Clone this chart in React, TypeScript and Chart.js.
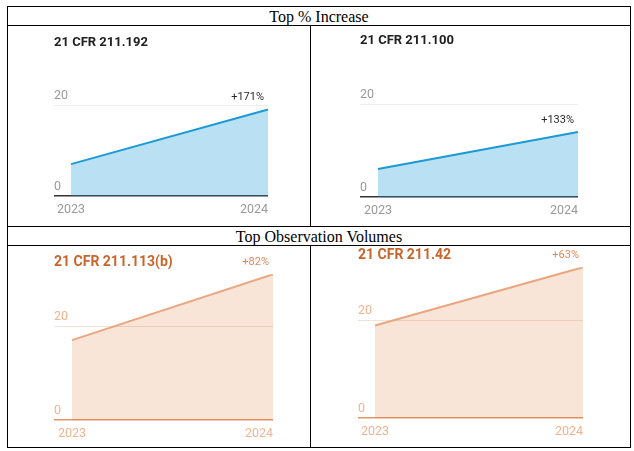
import React, { useEffect, useRef } from "react";
import { Chart, registerables } from "chart.js";

Chart.register(...registerables);

// ---- data ----
const years = ["2023", "2024"];
const obs192 = [7, 19];
const obs100 = [6, 14];
const obs113b = [17, 31];
const obs42 = [19, 31];
const chartTitles = ["21 CFR 211.192", "21 CFR 211.100", "21 CFR 211.113(b)", "21 CFR 211.42"];
const changeLabels = ["+171%", "+133%", "+82%", "+63%"];
const yTicks = [0, 20];
const yMax = [20, 20, 31, 31];
const sectionHeaders = ["Top % Increase", "Top Observation Volumes"];

const FONT = "Roboto, 'Noto Sans', sans-serif";

type Theme = {
  line: string; fill: string; title: string; tick: string; base: string; grid: string; pct: string;
};
const blue: Theme = {
  line: "#1b9ad6", fill: "rgba(27,154,214,0.3)", title: "#202020", tick: "#9a9a9a",
  base: "#333333", grid: "#eeeeee", pct: "#2a2a2a",
};
const orange: Theme = {
  line: "#e9a681", fill: "rgba(226,120,60,0.2)", title: "#c8652a", tick: "#f0b48f",
  base: "#e29466", grid: "#f3e2d8", pct: "#d98a5c",
};

type Geo = {
  left: number; top: number; w: number; h: number;
  padL: number; padR: number; padB: number; axisW: number;
  titleSize: number; titlePadTop: number; titlePadBottom: number;
};

const chartSpecs: { values: number[]; title: string; pct: string; max: number; theme: Theme; geo: Geo }[] = [
  { values: obs192, title: chartTitles[0], pct: changeLabels[0], max: yMax[0], theme: blue,
    geo: { left: 8, top: 26, w: 302, h: 200, padL: 46, padR: 42, padB: 30, axisW: 17, titleSize: 13, titlePadTop: 9.2, titlePadBottom: 54.2 } },
  { values: obs100, title: chartTitles[1], pct: changeLabels[1], max: yMax[1], theme: blue,
    geo: { left: 311, top: 26, w: 319, h: 200, padL: 49, padR: 52, padB: 29, axisW: 18, titleSize: 13, titlePadTop: 6.7, titlePadBottom: 55.7 } },
  { values: obs113b, title: chartTitles[2], pct: changeLabels[2], max: yMax[2], theme: orange,
    geo: { left: 8, top: 246, w: 302, h: 200, padL: 46, padR: 37, padB: 26, axisW: 18, titleSize: 14, titlePadTop: 7.6, titlePadBottom: 3.9 } },
  { values: obs42, title: chartTitles[3], pct: changeLabels[3], max: yMax[3], theme: orange,
    geo: { left: 311, top: 246, w: 319, h: 200, padL: 47, padR: 47, padB: 28, axisW: 17, titleSize: 14, titlePadTop: 0.8, titlePadBottom: 3.6 } },
];

function MiniChart({ spec }: { spec: (typeof chartSpecs)[number] }) {
  const ref = useRef<HTMLCanvasElement | null>(null);
  useEffect(() => {
    if (!ref.current) return;
    const { theme, geo } = spec;

    const xLabelsPlugin = {
      id: "xLabels",
      afterDraw(chart: any) {
        const ctx = chart.ctx;
        const xs = chart.scales.x;
        const area = chart.chartArea;
        ctx.save();
        ctx.font = `12.5px ${FONT}`;
        ctx.fillStyle = theme.tick;
        ctx.textBaseline = "middle";
        years.forEach((label, i) => {
          const x = xs.getPixelForValue(i);
          ctx.textAlign = i === years.length - 1 ? "right" : "center";
          ctx.fillText(label, x, area.bottom + 14);
        });
        ctx.restore();
      },
    };

    const pctPlugin = {
      id: "pctLabel",
      afterDatasetsDraw(chart: any) {
        const meta = chart.getDatasetMeta(0);
        const pt = meta.data[meta.data.length - 1];
        if (!pt) return;
        const ctx = chart.ctx;
        ctx.save();
        ctx.font = `11px ${FONT}`;
        ctx.fillStyle = theme.pct;
        ctx.textAlign = "right";
        ctx.textBaseline = "middle";
        ctx.fillText(spec.pct, pt.x - 4, pt.y - 12);
        ctx.restore();
      },
    };

    const chart = new Chart(ref.current, {
      type: "line",
      data: {
        labels: years,
        datasets: [
          {
            data: spec.values,
            borderColor: theme.line,
            backgroundColor: theme.fill,
            borderWidth: 2,
            fill: "origin",
            pointRadius: 0,
            tension: 0,
          },
        ],
      },
      options: {
        responsive: false,
        animation: false,
        layout: { padding: { left: geo.padL, right: geo.padR, bottom: geo.padB, top: 0 } },
        plugins: {
          legend: { display: false },
          tooltip: { enabled: false },
          title: {
            display: true,
            text: spec.title,
            align: "start",
            color: theme.title,
            font: { family: FONT, size: geo.titleSize, weight: "bold", lineHeight: 1.2 },
            padding: { top: geo.titlePadTop, bottom: geo.titlePadBottom },
          },
        },
        scales: {
          x: { display: false },
          y: {
            min: 0,
            max: spec.max,
            afterFit(scale: any) {
              scale.width = geo.axisW;
            },
            afterBuildTicks(scale: any) {
              scale.ticks = yTicks.map((v) => ({ value: v }));
            },
            border: { display: false },
            grid: {
              drawTicks: true,
              tickLength: geo.axisW,
              color: (c: any) => (c.tick && c.tick.value === 0 ? theme.base : theme.grid),
              lineWidth: (c: any) => (c.tick && c.tick.value === 0 ? 1.5 : 1),
            },
            ticks: {
              crossAlign: "far",
              padding: 0,
              labelOffset: -9.5,
              color: theme.tick,
              font: { family: FONT, size: 12.5 },
            },
          },
        },
      },
      plugins: [xLabelsPlugin, pctPlugin],
    } as any);
    return () => chart.destroy();
  }, [spec]);

  const g = spec.geo;
  return (
    <div style={{ position: "absolute", left: g.left, top: g.top, width: g.w, height: g.h }}>
      <canvas ref={ref} width={g.w} height={g.h} style={{ display: "block", width: g.w, height: g.h }} />
    </div>
  );
}

function Line({ x, y, w, h }: { x: number; y: number; w: number; h: number }) {
  return <div style={{ position: "absolute", left: x, top: y, width: w, height: h, background: "#000" }} />;
}

function Header({ y, text }: { y: number; text: string }) {
  return (
    <div
      style={{
        position: "absolute",
        left: 7,
        top: y,
        width: 624,
        height: 19,
        lineHeight: "19px",
        textAlign: "center",
        fontFamily: "'Liberation Serif', 'Times New Roman', serif",
        fontSize: 16,
        color: "#000",
      }}
    >
      {text}
    </div>
  );
}

export default function App() {
  return (
    <div style={{ position: "absolute", left: 0, top: 0, width: 634, height: 451, background: "#fff", overflow: "hidden" }}>
      <Header y={6.5} text={sectionHeaders[0]} />
      <Header y={226.5} text={sectionHeaders[1]} />
      {chartSpecs.map((s, i) => (
        <MiniChart key={i} spec={s} />
      ))}
      {/* table borders */}
      <Line x={7} y={6} w={624} h={1} />
      <Line x={7} y={25} w={624} h={1} />
      <Line x={7} y={226} w={624} h={1} />
      <Line x={7} y={245} w={624} h={1} />
      <Line x={7} y={447} w={624} h={1} />
      <Line x={7} y={6} w={1} h={442} />
      <Line x={630} y={6} w={1} h={442} />
      <Line x={310} y={25} w={1} h={202} />
      <Line x={310} y={245} w={1} h={203} />
    </div>
  );
}
